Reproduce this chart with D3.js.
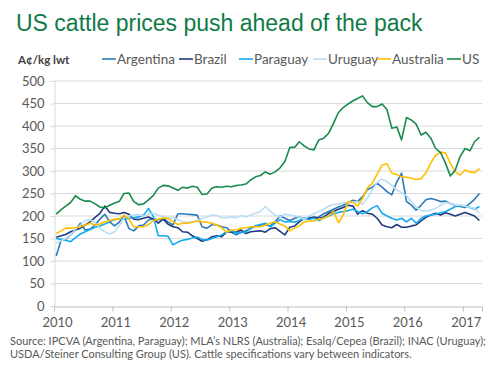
<!DOCTYPE html>
<html>
<head>
<meta charset="utf-8">
<script src="https://cdn.jsdelivr.net/npm/d3@7"></script>
<style>
  html, body { margin: 0; padding: 0; background: #fff; }
  svg { display: block; }
</style>
</head>
<body>
<div id="chart"></div>
<script>
// monthly values, Jan 2010 .. Apr 2017 (A¢/kg lwt)
const seriesNames = ['Argentina', 'Brazil', 'Paraguay', 'Uruguay', 'Australia', 'US'];
const yTicks = [0, 50, 100, 150, 200, 250, 300, 350, 400, 450, 500];

const argentina = [111,147,148,158,169,184,169,171,180,193,204,187,178,187,200,172,167,178,180,191,194,191,195,187,
  180,205,205,204,203,202,176,173,181,180,176,174,164,158,164,167,173,178,180,181,178,187,200,195,
  190,195,198,193,197,195,198,205,210,215,220,224,230,235,232,243,258,264,273,264,254,247,276,295,
  232,224,213,224,236,239,236,232,233,228,224,221,219,228,237,250];
const brazil = [153,156,159,165,169,173,180,187,197,206,222,208,206,205,208,204,193,192,195,198,193,184,193,182,
  176,174,165,164,156,150,144,147,154,156,154,164,165,164,169,161,165,166,167,164,172,174,166,158,
  175,178,187,195,195,198,195,198,206,210,215,219,224,222,204,212,206,204,195,180,176,174,181,175,
  175,178,180,189,197,202,206,202,207,204,200,204,208,204,200,190];
const paraguay = [150,148,146,143,152,160,165,170,175,178,182,187,192,194,193,195,196,198,202,217,198,156,156,155,
  136,142,146,148,151,153,148,146,150,154,158,165,167,162,163,165,172,178,181,184,176,184,192,187,
  188,186,190,195,192,195,190,196,200,205,208,210,212,215,210,205,210,218,223,206,200,195,191,195,
  187,195,184,195,200,202,204,207,210,215,221,224,222,219,215,221];
const uruguay = [140,145,150,158,170,180,190,192,185,172,165,160,165,180,196,200,202,203,200,204,206,202,198,196,
  197,191,187,186,187,189,195,198,202,201,196,196,198,196,201,198,202,206,210,221,211,202,198,204,
  202,200,197,193,200,205,210,215,222,225,227,229,230,231,232,226,240,258,275,282,276,268,258,252,
  245,232,220,212,211,213,217,224,230,228,224,224,222,219,217,206];
const australia = [161,167,173,173,174,176,180,184,180,182,187,190,193,193,202,193,176,176,176,181,190,193,195,195,
  187,181,184,184,186,189,187,186,184,180,174,164,169,169,173,174,176,176,176,180,184,187,182,178,
  167,173,178,187,189,189,193,195,200,210,185,202,232,230,222,239,262,273,293,313,316,295,292,287,
  286,284,281,283,296,318,335,342,340,317,298,291,302,298,296,306];
const us = [204,214,222,230,245,237,233,233,227,220,218,224,229,233,250,251,232,225,227,236,246,262,268,267,
  262,257,264,262,266,264,248,249,262,265,264,266,265,268,269,271,280,287,290,298,293,298,307,321,
  352,353,365,356,349,347,369,373,384,406,430,441,449,456,461,467,452,443,443,449,436,395,398,369,
  419,413,404,380,386,373,350,341,317,289,302,332,350,345,365,375];

const seriesValues = [argentina, brazil, paraguay, uruguay, australia, us];
const seriesColors = ['#2a7bb8', '#1f3a7e', '#14aaee', '#b9def6', '#ffbf00', '#188a4c'];

const W = 500, H = 376;
const svg = d3.select('#chart').append('svg')
  .attr('width', W).attr('height', H)
  .style('font-family', 'Lato, "Open Sans", sans-serif');

const months = argentina.map((_, i) => new Date(2010, i, 15));

const x = d3.scaleTime()
  .domain([new Date(2010, 0, 1), new Date(2017, 4, 1)])
  .range([54, 482]);
const y = d3.scaleLinear().domain([0, 500]).range([306, 81]);

// title
svg.append('text')
  .attr('x', 16).attr('y', 31)
  .style('font-family', '"Liberation Sans", Arial, sans-serif')
  .style('font-size', '23px')
  .style('fill', '#0f7b45')
  .text('US cattle prices push ahead of the pack');

// unit label
svg.append('text')
  .attr('x', 18).attr('y', 64)
  .style('font-size', '11.5px')
  .style('font-weight', 'bold')
  .style('fill', '#404040')
  .text('A¢/kg lwt');

// gridlines
svg.append('g')
  .selectAll('line')
  .data(yTicks.filter(d => d > 0))
  .join('line')
  .attr('x1', 54).attr('x2', 482)
  .attr('y1', d => y(d)).attr('y2', d => y(d))
  .attr('stroke', '#d9d9d9')
  .attr('stroke-width', 1);

// y axis
const yAxis = svg.append('g')
  .attr('transform', 'translate(54.5,0)')
  .call(d3.axisLeft(y).tickValues(yTicks).tickSize(4).tickPadding(6));
yAxis.select('.domain').attr('stroke', '#d9d9d9');
yAxis.selectAll('.tick line').attr('stroke', '#d9d9d9');
yAxis.selectAll('.tick text')
  .style('font-family', 'Lato, sans-serif')
  .style('font-size', '13px')
  .style('fill', '#595959');

// x axis
const xAxis = svg.append('g')
  .attr('transform', `translate(0,${y(0) + 0.5})`)
  .call(d3.axisBottom(x).ticks(d3.timeYear.every(1)).tickFormat(d3.timeFormat('%Y'))
    .tickSize(5).tickPadding(6));
xAxis.select('.domain').attr('stroke', '#bfbfbf');
xAxis.selectAll('.tick line').attr('stroke', '#bfbfbf');
xAxis.selectAll('.tick text')
  .attr('dx', 3)
  .style('font-family', 'Lato, sans-serif')
  .style('font-size', '13px')
  .style('fill', '#595959');

// lines
const line = d3.line()
  .x((d, i) => x(months[i]))
  .y(d => y(d));

svg.append('g')
  .selectAll('path')
  .data(seriesValues)
  .join('path')
  .attr('d', d => line(d))
  .attr('fill', 'none')
  .attr('stroke', (d, i) => seriesColors[i])
  .attr('stroke-width', 1.6)
  .attr('stroke-linejoin', 'round');

// legend
const legendX = [102, 179, 239, 313, 377, 447];
const legend = svg.append('g')
  .selectAll('g')
  .data(seriesNames)
  .join('g')
  .attr('transform', (d, i) => `translate(${legendX[i]},59)`);
legend.append('line')
  .attr('x1', 0).attr('x2', 14)
  .attr('stroke', (d, i) => seriesColors[i])
  .attr('stroke-width', 1.6);
legend.append('text')
  .attr('x', 15).attr('dy', '0.35em')
  .style('font-size', '13.5px')
  .style('fill', '#595959')
  .text(d => d);

// source note
const notes = [
  'Source: IPCVA (Argentina, Paraguay); MLA’s NLRS (Australia); Esalq/Cepea (Brazil); INAC (Uruguay);',
  'USDA/Steiner Consulting Group (US). Cattle specifications vary between indicators.'
];
svg.append('g')
  .selectAll('text')
  .data(notes)
  .join('text')
  .attr('x', 10)
  .attr('y', (d, i) => 345 + i * 12.5)
  .style('font-size', '11px')
  .style('fill', '#595959')
  .text(d => d);
</script>
</body>
</html>
